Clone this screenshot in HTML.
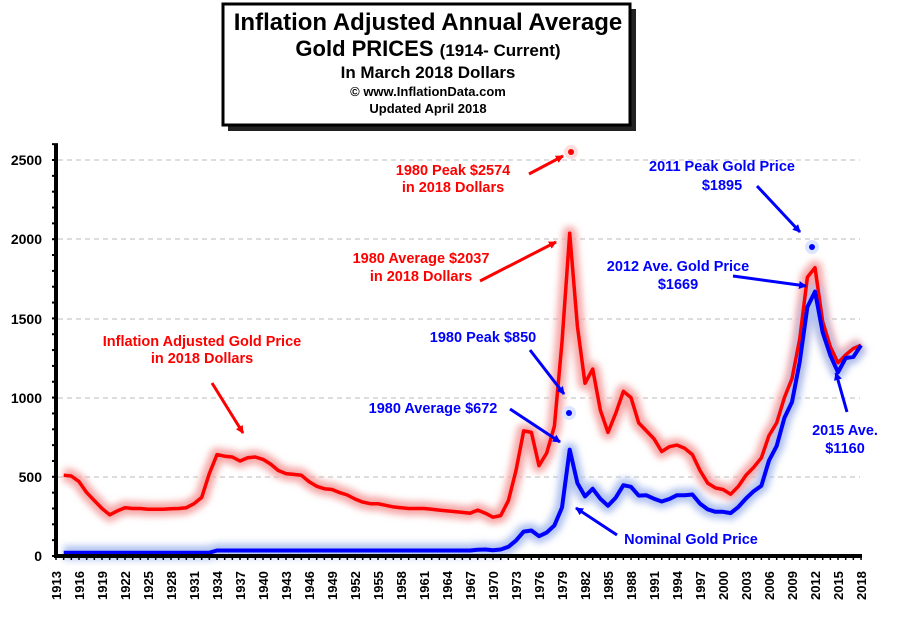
<!DOCTYPE html>
<html><head><meta charset="utf-8"><style>
body{margin:0;background:#fff;width:901px;height:612px;overflow:hidden;font-family:"Liberation Sans",sans-serif}
</style></head><body>
<svg width="901" height="612" viewBox="0 0 901 612" xmlns="http://www.w3.org/2000/svg" font-family="Liberation Sans, sans-serif" font-weight="bold">
<defs>
<filter id="g" x="-5%" y="-5%" width="110%" height="110%"><feGaussianBlur stdDeviation="3.5"/></filter>
<marker id="ar" markerWidth="8" markerHeight="8" refX="7" refY="4" orient="auto" markerUnits="userSpaceOnUse"><path d="M0,0 L8,4 L0,8 z" fill="red"/></marker>
<marker id="ab" markerWidth="8" markerHeight="8" refX="7" refY="4" orient="auto" markerUnits="userSpaceOnUse"><path d="M0,0 L8,4 L0,8 z" fill="#0000ff"/></marker>
</defs>
<rect x="228" y="9" width="408" height="122" fill="#222"/>
<rect x="223" y="4" width="407" height="121" fill="#fff" stroke="#000" stroke-width="3"/>
<g text-anchor="middle" fill="#000">
<text x="428" y="30" font-size="24">Inflation Adjusted Annual Average</text>
<text x="428" y="56" font-size="22">Gold PRICES <tspan font-size="17">(1914- Current)</tspan></text>
<text x="428" y="78" font-size="17">In March 2018 Dollars</text>
<text x="428" y="96" font-size="13">© www.InflationData.com</text>
<text x="428" y="113" font-size="13">Updated April 2018</text>
</g>
<g stroke="#bbb" stroke-dasharray="5,4" stroke-width="1">
<line x1="58" y1="160" x2="860" y2="160"/><line x1="58" y1="239" x2="860" y2="239"/>
<line x1="58" y1="319" x2="860" y2="319"/><line x1="58" y1="398" x2="860" y2="398"/>
<line x1="58" y1="477" x2="860" y2="477"/>
</g>
<g font-size="14" text-anchor="end" fill="#000">
<text x="42" y="165">2500</text><text x="42" y="244">2000</text><text x="42" y="324">1500</text>
<text x="42" y="403">1000</text><text x="42" y="482">500</text><text x="42" y="561">0</text>
</g>
<g id="series"></g>
<line x1="56" y1="144" x2="56" y2="557" stroke="#000" stroke-width="4"/>
<line x1="54" y1="556" x2="862" y2="556" stroke="#000" stroke-width="4"/>
<g id="ticks"></g>
<g font-size="14.5" text-anchor="middle" fill="red">
<text x="453" y="175">1980 Peak $2574</text><text x="453" y="192">in 2018 Dollars</text>
<text x="421" y="263">1980 Average $2037</text><text x="421" y="281">in 2018 Dollars</text>
<text x="202" y="346">Inflation Adjusted Gold Price</text><text x="202" y="363">in 2018 Dollars</text>
</g>
<g font-size="14.5" text-anchor="middle" fill="#0000ff">
<text x="483" y="342">1980 Peak $850</text>
<text x="433" y="413">1980 Average $672</text>
<text x="691" y="544">Nominal Gold Price</text>
<text x="722" y="171">2011 Peak  Gold Price</text><text x="722" y="190">$1895</text>
<text x="678" y="271">2012 Ave. Gold Price</text><text x="678" y="289">$1669</text>
<text x="845" y="435">2015 Ave.</text><text x="845" y="453">$1160</text>
</g>
<g stroke="red" stroke-width="3" marker-end="url(#ar)">
<line x1="529" y1="174" x2="563" y2="156"/>
<line x1="480" y1="281" x2="556" y2="242"/>
<line x1="212" y1="383" x2="243" y2="433"/>
</g>
<g stroke="#0000ff" stroke-width="3" marker-end="url(#ab)">
<line x1="530" y1="350" x2="564" y2="394"/>
<line x1="510" y1="409" x2="560" y2="442"/>
<line x1="757" y1="186" x2="800" y2="232"/>
<line x1="733" y1="276" x2="806" y2="286"/>
<line x1="617" y1="535" x2="576" y2="508"/>
<line x1="847" y1="412" x2="836" y2="373"/>
</g>
<circle cx="571" cy="152" r="7" fill="#fdd"/><circle cx="571" cy="152" r="3" fill="red"/>
<circle cx="569" cy="413" r="7" fill="#dde4ff"/><circle cx="569" cy="413" r="3" fill="#0000ff"/>
<circle cx="812" cy="247" r="7" fill="#dde4ff"/><circle cx="812" cy="247" r="3" fill="#0000ff"/>
</svg>
<script>
var red=[510,505,470,400,350,300,260,285,305,300,300,295,295,295,298,300,305,330,370,520,640,630,625,600,620,625,610,580,540,520,515,510,470,440,425,420,400,385,360,340,330,330,320,310,305,300,300,300,295,290,285,280,275,270,290,270,245,255,350,540,790,780,570,650,820,1350,2037,1450,1090,1180,920,780,900,1040,1000,840,790,740,660,690,700,680,640,540,460,430,420,390,440,510,560,620,760,840,1000,1120,1370,1760,1820,1480,1320,1220,1270,1310,1330];
var blue=[];for(var y=1914;y<=1933;y++)blue.push(20.67);for(y=1934;y<=1967;y++)blue.push(35);
blue=blue.concat([39,41,36,41,58,97,154,161,125,148,193,306,672,460,376,424,361,317,368,447,437,381,383,362,344,360,384,384,388,331,294,279,279,271,310,363,409,444,603,695,872,972,1225,1572,1669,1411,1266,1160,1250,1257,1330]);
function X(y){return 56+(y-1913)*7.667}function Y(v){return 556-v*0.1584}
function pts(a){return a.map(function(v,i){return X(1914+i).toFixed(1)+","+Y(v).toFixed(1)}).join(" ")}
var ns="http://www.w3.org/2000/svg",g=document.getElementById("series");
function pl(p,c,w,f){var e=document.createElementNS(ns,"polyline");e.setAttribute("points",p);e.setAttribute("fill","none");e.setAttribute("stroke",c);e.setAttribute("stroke-width",w);e.setAttribute("stroke-linejoin","round");if(f)e.setAttribute("filter","url(#g)");g.appendChild(e)}
var pr=pts(red),pb=pts(blue);
pl(pr,"#f6a8a8",14,1);pl(pb,"#b0c2f0",14,1);pl(pr,"red",3.5);pl(pb,"#0000ff",4);
var t=document.getElementById("ticks"),s="";
for(var yr=1913;yr<=2018;yr++){s+='<line x1="'+X(yr)+'" y1="556" x2="'+X(yr)+'" y2="560" stroke="#000" stroke-width="1.5"/>';}
for(var v=0;v<=2600;v+=100){s+='<line x1="52" y1="'+Y(v)+'" x2="58" y2="'+Y(v)+'" stroke="#000" stroke-width="2"/>';}
for(yr=1913;yr<=2018;yr+=3){var x=X(yr)+5;s+='<text x="'+x+'" y="600" transform="rotate(-90 '+x+' 600)" font-size="13" fill="#000">'+yr+'</text>';}
t.innerHTML=s;
</script>
</body></html>
